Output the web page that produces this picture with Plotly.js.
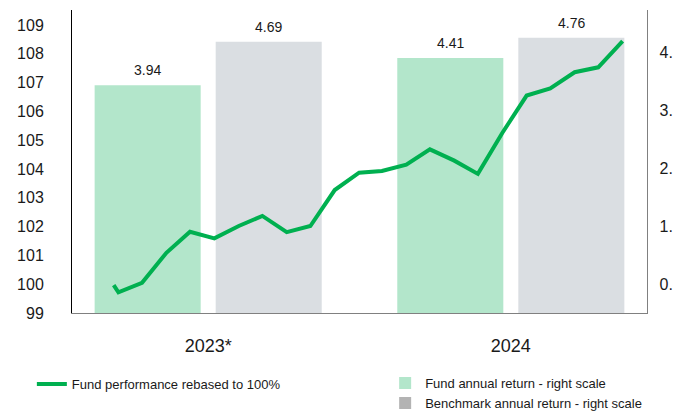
<!DOCTYPE html>
<html><head><meta charset="utf-8">
<script src="https://cdn.plot.ly/plotly-3.0.1.min.js"></script>
<style>html,body{margin:0;padding:0;background:#fff}#c{width:676px;height:412px}</style>
</head><body><div id="c"></div>
<script>
const years = ["2023*", "2024"];
const fundReturn = [3.94, 4.41];
const benchReturn = [4.69, 4.76];
const lineDates = ["2023-03-25","2023-03-31","2023-04-30","2023-05-31","2023-06-30","2023-07-31","2023-08-31","2023-09-30","2023-10-31","2023-11-30","2023-12-31","2024-01-31","2024-02-29","2024-03-31","2024-04-30","2024-05-31","2024-06-30","2024-07-31","2024-08-31","2024-09-30","2024-10-31","2024-11-30","2024-12-31"];
const lineValues = [99.97, 99.72, 100.05, 101.09, 101.82, 101.59, 102.02, 102.37, 101.81, 102.02, 103.27, 103.87, 103.93, 104.15, 104.68, 104.29, 103.83, 105.25, 106.55, 106.8, 107.36, 107.53, 108.44];
const rightTickText = ["0.", "1.", "2.", "3.", "4."];
const leftTicks = [99,100,101,102,103,104,105,106,107,108,109];

const fam = "Liberation Sans, Arial, sans-serif";
const txt = "#1a1a1a";
const bargap = 0.2, groupgap = 0.124;
const slot = (1 - bargap) / 2;

const traces = [
  {type:"bar", name:"Fund annual return - right scale", x:years, y:fundReturn,
   marker:{color:"#b3e6cb"}, showlegend:false, hoverinfo:"none"},
  {type:"bar", name:"Benchmark annual return - right scale", x:years, y:benchReturn,
   marker:{color:"#dadee2"}, showlegend:false, hoverinfo:"none"},
  {type:"scatter", mode:"lines", name:"Fund performance rebased to 100%", x:lineDates, y:lineValues,
   xaxis:"x2", yaxis:"y2", line:{color:"#00b050", width:4}, legend:"legend"},
  {type:"bar", name:"Fund annual return - right scale", x:[null], y:[null], xaxis:"x2", yaxis:"y2",
   marker:{color:"#b3e6cb"}, legend:"legend2", showlegend:true},
  {type:"bar", name:"Benchmark annual return - right scale", x:[null], y:[null], xaxis:"x2", yaxis:"y2",
   marker:{color:"#b3b3b3"}, legend:"legend2", showlegend:true}
];

const annotations = [];
years.forEach((yr, i) => {
  [[fundReturn, -1], [benchReturn, 1]].forEach(([arr, side]) => {
    annotations.push({xref:"x", yref:"y", x:i + side*slot/2, y:arr[i], text:arr[i].toFixed(2),
      showarrow:false, yanchor:"bottom", yshift:5, font:{family:fam, size:14, color:txt}});
  });
});

const layout = {
  width:676, height:412, margin:{l:72, r:29, t:10, b:99},
  paper_bgcolor:"#fff", plot_bgcolor:"rgba(0,0,0,0)",
  font:{family:fam, color:txt, size:16},
  barmode:"group", bargap:bargap, bargroupgap:groupgap,
  annotations:annotations,
  xaxis:{type:"category", range:[-0.45,1.45], showline:true, linecolor:"#808080", linewidth:1.3,
    ticks:"", showgrid:false, tickfont:{size:18}, ticklabelstandoff:16},
  xaxis2:{type:"date", overlaying:"x", range:["2023-01-31","2025-01-31"], visible:false},
  yaxis:{side:"right", range:[0, 5.24], tickvals:rightTickText.map((t,i)=>i+0.5), ticktext:rightTickText,
    showline:true, linecolor:"#808080", linewidth:1.3, ticks:"", showgrid:false, zeroline:false,
    tickfont:{size:16}, ticklabelstandoff:8},
  yaxis2:{side:"left", overlaying:"y", range:[99, 109.52], tickvals:leftTicks, ticks:"",
    showline:true, linecolor:"#000", linewidth:1, showgrid:false, zeroline:false,
    tickfont:{size:16}, ticklabelstandoff:24},
  legend:{xref:"paper", yref:"container", x:-0.0698, xanchor:"left", y:0.068, yanchor:"middle",
    orientation:"v", font:{size:13, color:txt}, bgcolor:"rgba(0,0,0,0)", itemwidth:30},
  legend2:{xref:"paper", yref:"container", x:0.5446, xanchor:"left", y:0.046, yanchor:"middle",
    orientation:"v", font:{size:13, color:txt}, bgcolor:"rgba(0,0,0,0)", tracegroupgap:0, itemwidth:30},
  showlegend:true
};
Plotly.newPlot("c", traces, layout, {displayModeBar:false, staticPlot:true});
</script></body></html>
